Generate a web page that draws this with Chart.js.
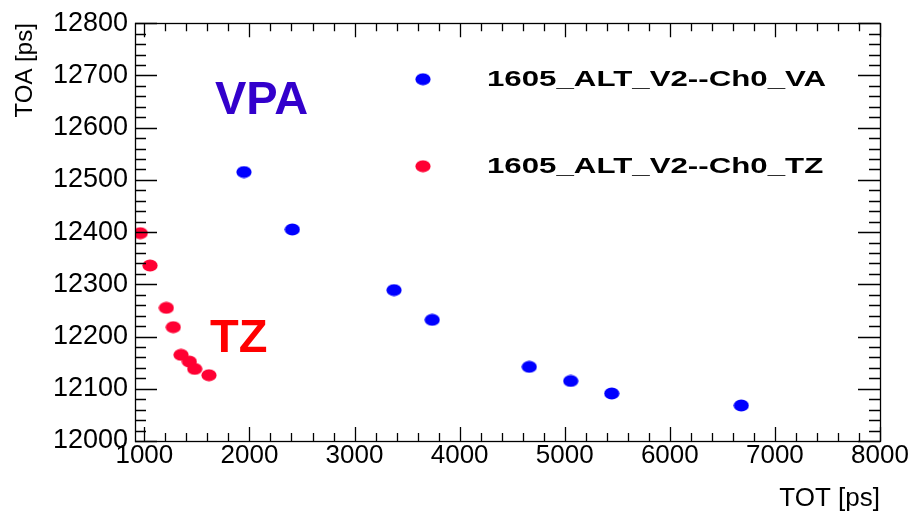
<!DOCTYPE html>
<html>
<head>
<meta charset="utf-8">
<title>TOA vs TOT</title>
<script src="https://cdn.jsdelivr.net/npm/chart.js@4.4.1/dist/chart.umd.min.js"></script>
<style>
    html, body { margin: 0; padding: 0; background: #fff; }
    canvas { display: block; }
</style>
</head>
<body>
<canvas id="toaChart" width="918" height="515"></canvas>
<script>
const xTicks = [1000, 2000, 3000, 4000, 5000, 6000, 7000, 8000];
const yTicks = [12000, 12100, 12200, 12300, 12400, 12500, 12600, 12700, 12800];

const vaLabel = '1605_ALT_V2--Ch0_VA';
const vaTot = [1948, 2408, 3376, 3739, 4663, 5057, 5447, 6680];
const vaToa = [12515, 12405, 12289, 12232, 12142, 12115, 12091, 12068];

const tzLabel = '1605_ALT_V2--Ch0_TZ';
const tzTot = [961, 1054, 1209, 1275, 1349, 1428, 1479, 1615];
const tzToa = [12398, 12336, 12255, 12218, 12165, 12152, 12138, 12126];

const FONT = '"Liberation Sans", Arial, Helvetica, sans-serif';

// ROOT draws its markers a bit wider than tall in this picture
function makeDot(color) {
    const c = document.createElement('canvas');
    c.width = 16;
    c.height = 13;
    const g = c.getContext('2d');
    g.fillStyle = color;
    g.beginPath();
    g.ellipse(8, 6.5, 7.6, 6.1, 0, 0, Math.PI * 2);
    g.fill();
    return c;
}

function toPoints(xs, ys) {
    return xs.map((v, i) => ({ x: v, y: ys[i] }));
}

const px = v => Math.round(v) + 0.5;

// frame on all four sides with inward ticks, like a ROOT canvas
const frameTicks = {
    id: 'frameTicks',
    afterDraw(chart) {
        const { ctx, chartArea: a, scales: { x, y } } = chart;
        ctx.save();
        ctx.strokeStyle = '#000';
        ctx.lineWidth = 1.3;
        ctx.strokeRect(px(a.left), px(a.top), Math.round(a.right - a.left), Math.round(a.bottom - a.top));
        ctx.beginPath();
        for (let v = 1000; v <= x.max; v += 200) {
            const len = v % 1000 === 0 ? 14 : 8;
            const p = px(x.getPixelForValue(v));
            ctx.moveTo(p, a.bottom);
            ctx.lineTo(p, a.bottom - len);
            ctx.moveTo(p, a.top);
            ctx.lineTo(p, a.top + len);
        }
        for (let v = 12000; v <= y.max; v += 20) {
            const len = v % 100 === 0 ? 22 : 11;
            const p = px(y.getPixelForValue(v));
            ctx.moveTo(a.left, p);
            ctx.lineTo(a.left + len, p);
            ctx.moveTo(a.right, p);
            ctx.lineTo(a.right - len, p);
        }
        ctx.stroke();
        ctx.restore();
    }
};

// legend inside the frame plus the VPA / TZ captions
const insideText = {
    id: 'insideText',
    afterDraw(chart, args, opts) {
        const { ctx, chartArea: a, scales: { x, y } } = chart;
        ctx.save();
        ctx.textBaseline = 'alphabetic';
        ctx.textAlign = 'left';

        opts.captions.forEach(c => {
            ctx.font = 'bold 47px ' + FONT;
            ctx.fillStyle = c.color;
            ctx.fillText(c.text, x.getPixelForValue(c.x), y.getPixelForValue(c.y));
        });

        chart.data.datasets.forEach((ds, i) => {
            const rowY = a.top + opts.firstRow + i * opts.rowGap;
            const img = ds.pointStyle;
            ctx.drawImage(img, a.left + opts.markX - img.width / 2, rowY - img.height / 2);
            ctx.save();
            ctx.translate(a.left + opts.textX, rowY + 7);
            ctx.scale(1.42, 1);
            ctx.font = 'bold 22px ' + FONT;
            ctx.fillStyle = '#000';
            ctx.fillText(ds.label, 0, 0);
            ctx.restore();
        });
        ctx.restore();
    }
};

const ctx = document.getElementById('toaChart').getContext('2d');
const toaChart = new Chart(ctx, {
    type: 'scatter',
    data: {
        datasets: [
            {
                label: vaLabel,
                data: toPoints(vaTot, vaToa),
                pointStyle: makeDot('#0000ff'),
                pointRadius: 7,
                backgroundColor: '#0000ff'
            },
            {
                label: tzLabel,
                data: toPoints(tzTot, tzToa),
                pointStyle: makeDot('#ff0033'),
                pointRadius: 7,
                backgroundColor: '#ff0033'
            }
        ]
    },
    options: {
        responsive: false,
        animation: false,
        events: [],
        layout: {
            padding: { left: 0, right: 38, top: 16, bottom: 0 }
        },
        plugins: {
            legend: { display: false },
            tooltip: { enabled: false },
            insideText: {
                firstRow: 56,
                rowGap: 87,
                markX: 288,
                textX: 352,
                captions: [
                    { text: 'VPA', x: 1672, y: 12626, color: '#3300cc' },
                    { text: 'TZ', x: 1625, y: 12171, color: '#ff0000' }
                ]
            }
        },
        scales: {
            x: {
                type: 'linear',
                position: 'bottom',
                min: 911,
                max: 8000,
                afterFit: scale => { scale.height = 74; },
                afterBuildTicks: scale => { scale.ticks = xTicks.map(v => ({ value: v })); },
                grid: { display: false, drawTicks: false },
                border: { display: false },
                ticks: {
                    color: '#000',
                    padding: 2,
                    autoSkip: false,
                    maxRotation: 0,
                    font: { family: FONT, size: 26, lineHeight: 1 },
                    callback: v => String(v)
                },
                title: {
                    display: true,
                    text: 'TOT [ps]',
                    align: 'end',
                    color: '#000',
                    padding: { top: 0, bottom: 1 },
                    font: { family: FONT, size: 26 }
                }
            },
            y: {
                type: 'linear',
                position: 'left',
                min: 12000,
                max: 12800,
                afterFit: scale => { scale.width = 135; },
                afterBuildTicks: scale => { scale.ticks = yTicks.map(v => ({ value: v })); },
                grid: { display: false, drawTicks: false },
                border: { display: false },
                ticks: {
                    color: '#000',
                    padding: 7,
                    autoSkip: false,
                    font: { family: FONT, size: 27 },
                    callback: v => String(v)
                },
                title: {
                    display: true,
                    text: 'TOA [ps]',
                    align: 'end',
                    color: '#000',
                    padding: { top: 11, bottom: 0 },
                    font: { family: FONT, size: 24 }
                }
            }
        }
    },
    plugins: [frameTicks, insideText]
});
</script>
</body>
</html>
